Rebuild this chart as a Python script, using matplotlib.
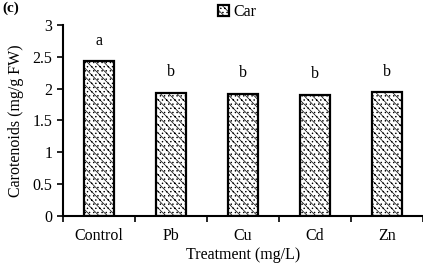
import numpy as np
import matplotlib.pyplot as plt

treatments = ['Control', 'Pb', 'Cu', 'Cd', 'Zn']
car = [2.43, 1.93, 1.92, 1.90, 1.94]
letters = ['a', 'b', 'b', 'b', 'b']

plt.rcParams['font.family'] = ['Liberation Serif', 'DejaVu Serif']
plt.rcParams['hatch.linewidth'] = 0.5

fig = plt.figure(figsize=(4.23, 2.66), dpi=100)
ax = fig.add_axes([0.149, 0.188, 0.851, 0.718])

x = np.arange(len(treatments))
ax.bar(x, car, width=0.41, color='white', edgecolor='black', linewidth=1.6,
       hatch='\\\\\\\\....', label='Car')
for xi, v, l in zip(x, car, letters):
    ax.text(xi, v + 0.2, l, ha='center', va='bottom', fontsize=11.5)

ax.set_xlim(-0.5, 4.5)
ax.set_ylim(0, 3)
ax.set_yticks(np.arange(0, 3.01, 0.5))
ax.set_yticklabels(['0', '0.5', '1', '1.5', '2', '2.5', '3'], fontsize=11.5)
ax.set_xticks(np.arange(-0.5, 4.6, 1))
ax.set_xticklabels([])
ax.set_xticks(x, minor=True)
ax.set_xticklabels(treatments, minor=True, fontsize=11.5)
ax.tick_params(axis='x', which='minor', length=0, pad=9)
ax.tick_params(axis='x', which='major', length=4, width=1.2)
ax.tick_params(axis='y', length=4, width=1.2)
ax.spines['top'].set_visible(False)
ax.spines['right'].set_visible(False)
ax.spines['left'].set_linewidth(1.5)
ax.spines['bottom'].set_linewidth(1.5)
ax.set_ylabel('Carotenoids (mg/g FW)', fontsize=11.5, labelpad=6)
ax.set_xlabel('Treatment (mg/L)', fontsize=11.5, labelpad=2)

ax.legend(loc='upper left', bbox_to_anchor=(0.39, 1.185), frameon=False,
          fontsize=11.5, handlelength=0.7, handleheight=0.7, handletextpad=0.3)
fig.text(0.005, 0.995, '(c)', fontsize=11, fontweight='bold', va='top', ha='left')

plt.savefig('out.png', dpi=100)
